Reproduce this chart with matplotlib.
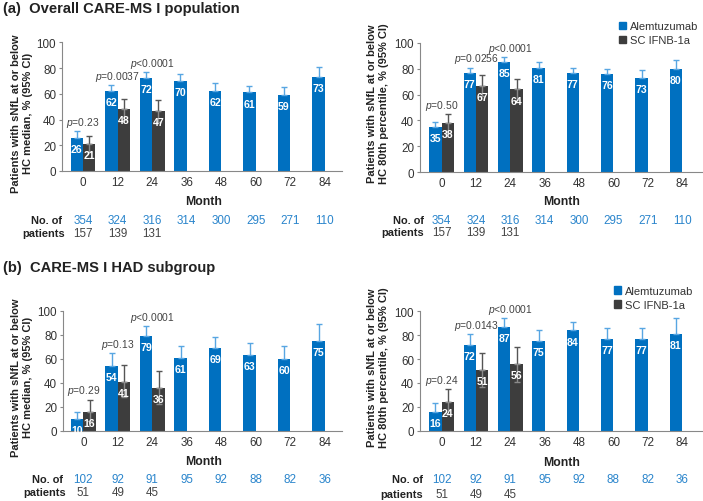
import matplotlib
matplotlib.use("Agg")
import matplotlib.pyplot as plt
import numpy as np
from matplotlib.patches import Patch

plt.rcParams['font.family'] = ['Liberation Sans', 'DejaVu Sans']
plt.rcParams['mathtext.fontset'] = 'custom'
plt.rcParams['mathtext.it'] = 'Liberation Sans:italic'
plt.rcParams['mathtext.rm'] = 'Liberation Sans'

months = ['0', '12', '24', '36', '48', '60', '72', '84']

# (a) overall population, HC median
a_med_alem = [26, 62, 72, 70, 62, 61, 59, 73]
a_med_alem_hi = [31, 67, 77, 75, 68, 66, 65, 81]
a_med_ifn = [21, 48, 47]
a_med_ifn_lo = [15, 40, 38]
a_med_ifn_hi = [27, 56, 55]
a_med_p = ['=0.23', '=0.0037', '<0.0001']

# (a) overall population, HC 80th percentile
a_p80_alem = [35, 77, 85, 81, 77, 76, 73, 80]
a_p80_alem_hi = [39, 81, 89, 85, 81, 80, 79, 87]
a_p80_ifn = [38, 67, 64]
a_p80_ifn_lo = [30, 59, 56]
a_p80_ifn_hi = [45, 75, 72]
a_p80_p = ['=0.50', '=0.0256', '<0.0001']

a_n_alem = [354, 324, 316, 314, 300, 295, 271, 110]
a_n_ifn = [157, 139, 131]

# (b) HAD subgroup, HC median
b_med_alem = [10, 54, 79, 61, 69, 63, 60, 75]
b_med_alem_hi = [16, 65, 87, 71, 78, 73, 71, 89]
b_med_ifn = [16, 41, 36]
b_med_ifn_lo = [8, 28, 22]
b_med_ifn_hi = [26, 55, 50]
b_med_p = ['=0.29', '=0.13', '<0.0001']

# (b) HAD subgroup, HC 80th percentile
b_p80_alem = [16, 72, 87, 75, 84, 77, 77, 81]
b_p80_alem_hi = [23, 81, 94, 84, 91, 86, 86, 94]
b_p80_ifn = [24, 51, 56]
b_p80_ifn_lo = [14, 37, 41]
b_p80_ifn_hi = [35, 65, 70]
b_p80_p = ['=0.24', '=0.0143', '<0.0001']

b_n_alem = [102, 92, 91, 95, 92, 88, 82, 36]
b_n_ifn = [51, 49, 45]

BLUE = '#0070c0'
GREY = '#3d3d3d'
BLUE_ERR = '#58a6e2'
GREY_ERR = '#555555'
BLUE_TXT = '#2a85cc'
TXT = '#333333'

W, H = 703, 502
fig = plt.figure(figsize=(7.03, 5.02), dpi=100)


def px_axes(left, top, right, bottom):
    return fig.add_axes([left / W, 1 - bottom / H, (right - left) / W, (bottom - top) / H])


def panel(ax, alem, alem_hi, ifn, ifn_lo, ifn_hi, pvals, n_alem, n_ifn, xlim, hpx, rows, lab_x):
    w = 0.36
    x = np.arange(len(months))
    xi = np.arange(len(ifn))
    alem = np.array(alem)
    ifn = np.array(ifn)
    ax.bar(x - w / 2, alem, w, color=BLUE, zorder=2)
    ax.errorbar(x - w / 2, alem, yerr=[np.zeros(len(alem)), np.array(alem_hi) - alem],
                fmt='none', ecolor=BLUE_ERR, elinewidth=1, capsize=2, zorder=3)
    ax.bar(xi + w / 2, ifn, w, color=GREY, zorder=2)
    ax.errorbar(xi + w / 2, ifn, yerr=[np.zeros(len(ifn)), np.array(ifn_hi) - ifn],
                fmt='none', ecolor=GREY_ERR, elinewidth=1, capsize=2, zorder=1.5)
    ax.errorbar(xi + w / 2, ifn, yerr=[ifn - np.array(ifn_lo), np.zeros(len(ifn))],
                fmt='none', ecolor='#8a8a8a', elinewidth=1, capsize=2, zorder=3)
    for xx, v in zip(x - w / 2, alem):
        ax.annotate(str(v), (xx, v), xytext=(0, -8), textcoords='offset points',
                    ha='center', va='center', color='white', fontsize=7.6, fontweight='bold', zorder=4)
    for xx, v in zip(xi + w / 2, ifn):
        ax.annotate(str(v), (xx, v), xytext=(0, -8), textcoords='offset points',
                    ha='center', va='center', color='white', fontsize=7.6, fontweight='bold', zorder=4)
    for i, p in enumerate(pvals):
        top = max(alem_hi[i], ifn_hi[i])
        ax.annotate(r'$\it{p}$' + p, (i, top), xytext=(0, 1.5), textcoords='offset points',
                    ha='center', va='bottom', color='#444444', fontsize=7.4)
    ax.set_ylim(0, 100)
    ax.set_xlim(*xlim)
    ax.set_yticks(range(0, 101, 20))
    ax.set_xticks(x)
    ax.set_xticklabels(months)
    ax.tick_params(axis='x', length=0, labelsize=8.4, colors=TXT, pad=3.5)
    ax.tick_params(axis='y', length=2, labelsize=8.4, colors=TXT, pad=2.2, color='#888888')
    for s in ['top', 'right']:
        ax.spines[s].set_visible(False)
    for s in ['left', 'bottom']:
        ax.spines[s].set_color('#888888')
    tr = ax.get_xaxis_transform()
    m_y, r1, r2 = [-d / hpx for d in rows]
    ax.text(3.5, m_y, 'Month', transform=tr, ha='center', va='center',
            fontsize=8.8, fontweight='bold', color='#222222')
    ax.text(lab_x[0], r1, 'No. of', transform=tr, ha='right', va='center',
            fontsize=7.9, fontweight='bold', color='#222222')
    ax.text(lab_x[1], r2, 'patients', transform=tr, ha='right', va='center',
            fontsize=7.9, fontweight='bold', color='#222222')
    for i, n in enumerate(n_alem):
        ax.text(i, r1, str(n), transform=tr, ha='center', va='center', fontsize=8.4, color=BLUE_TXT)
    for i, n in enumerate(n_ifn):
        ax.text(i, r2, str(n), transform=tr, ha='center', va='center', fontsize=8.4, color='#444444')


def ylab(xc, yc, text):
    fig.text(xc / W, 1 - yc / H, text, rotation=90, ha='center', va='center',
             fontsize=8, fontweight='bold', color='#222222', linespacing=1.25)


lab_med = 'Patients with sNfL at or below\nHC median, % (95% CI)'
lab_p80 = 'Patients with sNfL at or below\nHC 80th percentile, % (95% CI)'

ax1 = px_axes(62, 43.3, 342, 172)
panel(ax1, a_med_alem, a_med_alem_hi, a_med_ifn, a_med_ifn_lo, a_med_ifn_hi, a_med_p,
      a_n_alem, a_n_ifn, (-0.61, 7.5), 128.7, (30, 49, 62), (-0.6, -0.52))
ax2 = px_axes(420, 44, 702, 173)
panel(ax2, a_p80_alem, a_p80_alem_hi, a_p80_ifn, a_p80_ifn_lo, a_p80_ifn_hi, a_p80_p,
      a_n_alem, a_n_ifn, (-0.63, 7.58), 129, (29, 48, 60.5), (-0.52, -0.52))
ax3 = px_axes(63, 311.7, 342, 431.7)
panel(ax3, b_med_alem, b_med_alem_hi, b_med_ifn, b_med_ifn_lo, b_med_ifn_hi, b_med_p,
      b_n_alem, b_n_ifn, (-0.59, 7.5), 120, (30, 48.3, 61.6), (-0.58, -0.5))
ax4 = px_axes(420, 312.3, 702, 431.7)
panel(ax4, b_p80_alem, b_p80_alem_hi, b_p80_ifn, b_p80_ifn_lo, b_p80_ifn_hi, b_p80_p,
      b_n_alem, b_n_ifn, (-0.63, 7.58), 119.4, (31, 48.3, 63), (-0.55, -0.55))

ylab(21.7, 113.5, lab_med)
ylab(377.5, 104, lab_p80)
ylab(21.7, 377.5, lab_med)
ylab(377.5, 368, lab_p80)

fig.text(3 / W, 1 - 8.5 / H, '(a)  Overall CARE-MS I population', fontsize=10.6,
         fontweight='bold', color='#222222', va='center')
fig.text(3 / W, 1 - 268 / H, '(b)  CARE-MS I HAD subgroup', fontsize=10.6,
         fontweight='bold', color='#222222', va='center')

handles = [Patch(color=BLUE, label='Alemtuzumab'), Patch(color=GREY, label='SC IFNB-1a')]
for ytop, xl in ((22.5, 619), (287, 614)):
    fig.legend(handles=handles, loc='upper left', bbox_to_anchor=(xl / W, 1 - ytop / H),
               frameon=False, fontsize=8, handlelength=0.65, handleheight=0.65,
               handletextpad=0.35, labelspacing=0.35, borderaxespad=0, borderpad=0,
               labelcolor='#333333')

fig.savefig('out.png', dpi=100, facecolor='white')
